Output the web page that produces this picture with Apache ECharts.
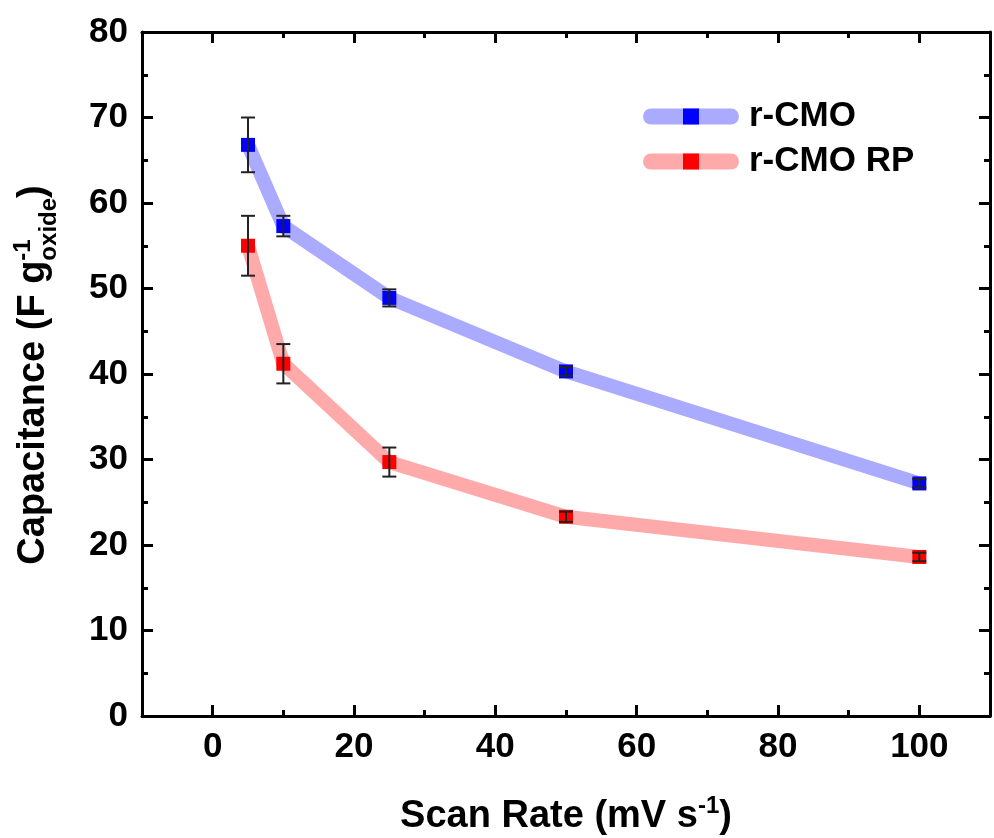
<!DOCTYPE html>
<html>
<head>
<meta charset="utf-8">
<script src="https://cdn.jsdelivr.net/npm/echarts@6/dist/echarts.min.js"></script>
<style>
  html, body { margin: 0; padding: 0; background: #fff; }
  #chart { width: 994px; height: 838px; }
</style>
</head>
<body>
<div id="chart"></div>
<script>
// scan rates (mV/s)
const scanRates = [5, 10, 25, 50, 100];
// capacitance, F/g oxide
const cmo = [66.8, 57.3, 48.9, 40.3, 27.2];
const cmoErr = [3.2, 1.2, 1.0, 0.5, 0.5];
const cmoRp = [55.0, 41.2, 29.7, 23.3, 18.6];
const cmoRpErr = [3.5, 2.3, 1.7, 0.6, 0.5];

const xMajor = [0, 20, 40, 60, 80, 100];
const xMinor = [10, 30, 50, 70, 90];

const FONT = '"Liberation Sans", Arial, sans-serif';
const BLACK = '#000';

function pairs(ys) {
  return scanRates.map((x, i) => [x, ys[i]]);
}
function bars(ys, errs) {
  return scanRates.map((x, i) => [x, ys[i] - errs[i], ys[i] + errs[i]]);
}

function errRender(params, api) {
  const x = api.value(0);
  const lo = api.coord([x, api.value(1)]);
  const hi = api.coord([x, api.value(2)]);
  const w = 7;
  const st = { stroke: '#222', lineWidth: 2 };
  return {
    type: 'group',
    children: [
      { type: 'line', shape: { x1: lo[0], y1: lo[1], x2: hi[0], y2: hi[1] }, style: st },
      { type: 'line', shape: { x1: lo[0] - w, y1: lo[1], x2: lo[0] + w, y2: lo[1] }, style: st },
      { type: 'line', shape: { x1: hi[0] - w, y1: hi[1], x2: hi[0] + w, y2: hi[1] }, style: st }
    ]
  };
}

const lineW = { color: BLACK, width: 3 };
function xAx(pos, ticks, len, showLine, showLabel) {
  return {
    type: 'value', position: pos, min: -10, max: 110,
    axisLine: { show: showLine, onZero: false, lineStyle: lineW },
    axisTick: { show: true, inside: true, length: len, customValues: ticks, lineStyle: lineW },
    axisLabel: {
      show: showLabel, customValues: ticks, margin: 14,
      fontSize: 35, fontWeight: 'bold', fontFamily: FONT, color: BLACK
    },
    splitLine: { show: false }
  };
}
function yAx(pos, showLabel) {
  return {
    type: 'value', position: pos, min: 0, max: 80, interval: 10,
    axisLine: { show: true, onZero: false, lineStyle: lineW },
    axisTick: { show: true, inside: true, length: 11, lineStyle: lineW },
    minorTick: { show: true, splitNumber: 2, length: 6, lineStyle: lineW },
    axisLabel: {
      show: showLabel, margin: 14,
      fontSize: 35, fontWeight: 'bold', fontFamily: FONT, color: BLACK
    },
    splitLine: { show: false },
    minorSplitLine: { show: false }
  };
}

// y axis title with stacked super/subscript
function measure(txt, size) {
  const ctx = document.createElement('canvas').getContext('2d');
  ctx.font = 'bold ' + size + 'px ' + FONT;
  return ctx.measureText(txt).width;
}
const mainTxt = 'Capacitance (F g';
const w1 = measure(mainTxt, 38);
const wSup = measure('-1', 24);
const wSub = measure('oxide', 24);
const wEnd = measure(')', 38);
const wTot = w1 + Math.max(wSup, wSub) + wEnd;
const x0 = -wTot / 2;
const tStyle = (text, size) => ({
  text: text, fill: BLACK, font: 'bold ' + size + 'px ' + FONT,
  align: 'left', verticalAlign: 'middle'
});

const option = {
  animation: false,
  backgroundColor: '#fff',
  grid: { left: 142, right: 4, top: 32, bottom: 122 },
  legend: {
    orient: 'vertical', left: 638, top: 94,
    itemWidth: 80, itemHeight: 20, itemGap: 10,
    data: ['r-CMO', 'r-CMO RP'],
    lineStyle: { width: 16, cap: 'round' },
    textStyle: { fontSize: 35, fontWeight: 'bold', fontFamily: FONT, color: BLACK, padding: [0, 0, 0, 13] }
  },
  xAxis: [
    xAx('bottom', xMajor, 11, true, true),
    xAx('bottom', xMinor, 6, false, false),
    xAx('top', xMajor, 11, true, false),
    xAx('top', xMinor, 6, false, false)
  ],
  yAxis: [yAx('left', true), yAx('right', false)],
  graphic: [
    {
      type: 'text', x: 566, y: 817,
      style: {
        text: '{m|Scan Rate (mV s}{s|-1}{m|)}',
        x: 0, y: 0, align: 'center', verticalAlign: 'middle',
        rich: {
          m: { fontSize: 38, fontWeight: 'bold', fontFamily: FONT, color: BLACK, lineHeight: 46 },
          s: { fontSize: 24, fontWeight: 'bold', fontFamily: FONT, color: BLACK, lineHeight: 24, verticalAlign: 'top' }
        }
      }
    },
    {
      type: 'group', x: 34, y: 375, rotation: Math.PI / 2,
      children: [
        { type: 'text', x: x0, y: 0, style: tStyle(mainTxt, 38) },
        { type: 'text', x: x0 + w1, y: -11, style: tStyle('-1', 24) },
        { type: 'text', x: x0 + w1, y: 15, style: tStyle('oxide', 24) },
        { type: 'text', x: x0 + w1 + Math.max(wSup, wSub), y: 0, style: tStyle(')', 38) }
      ]
    }
  ],
  series: [
    {
      name: 'r-CMO', type: 'line', data: pairs(cmo), z: 3,
      symbol: 'rect', symbolSize: 14,
      itemStyle: { color: '#0000ff' },
      lineStyle: { color: '#aaaaff', width: 14 }
    },
    {
      name: 'r-CMO RP', type: 'line', data: pairs(cmoRp), z: 3,
      symbol: 'rect', symbolSize: 14,
      itemStyle: { color: '#ff0000' },
      lineStyle: { color: '#ffaaaa', width: 14 }
    },
    {
      type: 'custom', renderItem: errRender, data: bars(cmo, cmoErr), z: 5,
      encode: { x: 0, y: [1, 2] }
    },
    {
      type: 'custom', renderItem: errRender, data: bars(cmoRp, cmoRpErr), z: 5,
      encode: { x: 0, y: [1, 2] }
    }
  ]
};

echarts.init(document.getElementById('chart')).setOption(option);
</script>
</body>
</html>
